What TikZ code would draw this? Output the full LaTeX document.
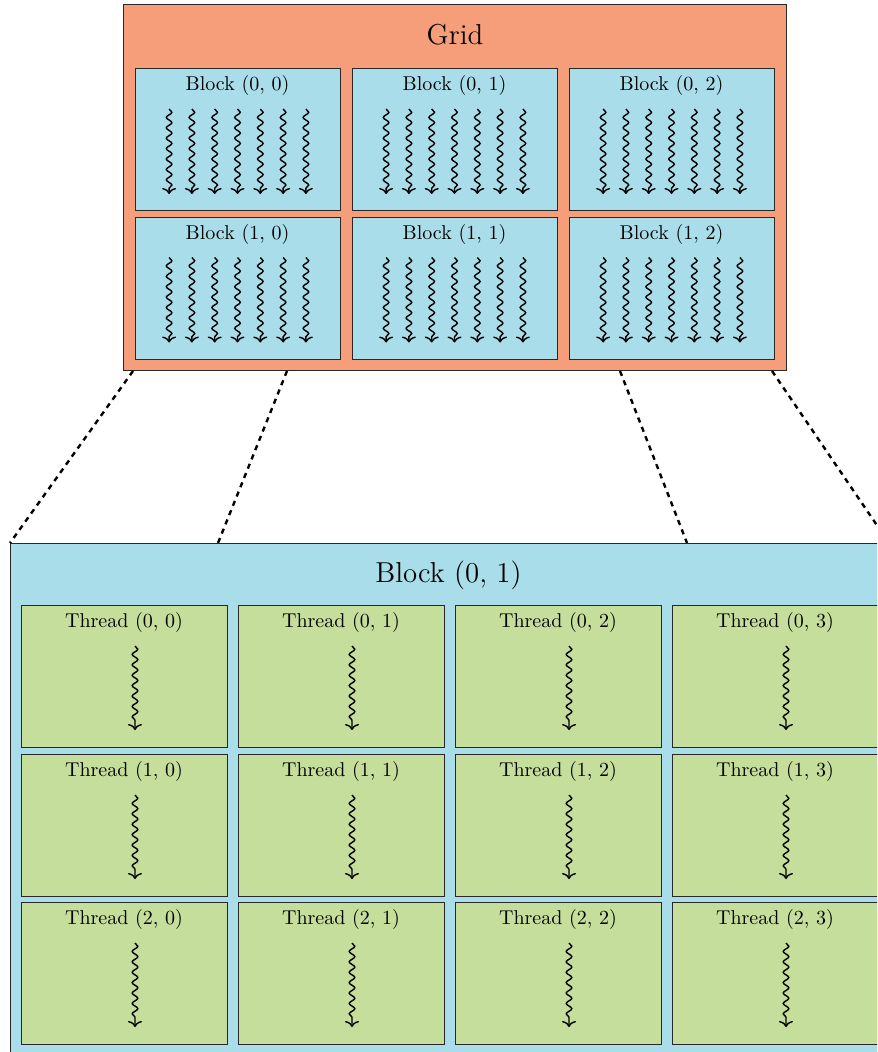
\documentclass[tikz,border=0pt]{standalone}
\usetikzlibrary{calc,decorations.pathmorphing,arrows.meta}

\definecolor{gridorange}{RGB}{246,158,122}
\definecolor{blockblue}{RGB}{170,221,234}
\definecolor{threadgreen}{RGB}{197,222,155}
\definecolor{edgegray}{RGB}{40,40,40}

\begin{document}
\begin{tikzpicture}[x=0.5pt,y=-0.5pt,
  frame/.style={draw=edgegray, line width=0.5pt, inner sep=0pt, outer sep=0pt},
  gridbox/.style={frame, fill=gridorange, minimum width=331.5pt, minimum height=183pt},
  blockbox/.style={frame, fill=blockblue, minimum width=102.5pt, minimum height=71pt},
  bigblock/.style={frame, fill=blockblue, minimum width=439.5pt, minimum height=257pt},
  threadbox/.style={frame, fill=threadgreen, minimum width=103pt, minimum height=71pt},
  label/.style={anchor=base, inner sep=0pt},
  wave/.style={line width=0.7pt, decorate,
    decoration={snake, amplitude=1.4pt, segment length=5.2pt, post length=2.5pt},
    -{To[length=3pt,width=7pt]}},
  zoomline/.style={line width=1.2pt, dash pattern=on 2.6pt off 2.4pt}]

\useasboundingbox (0,0) rectangle (877,1052);
\clip (0,0) rectangle (877,1052);

% ---- the grid of blocks ----
\node[gridbox] (grid) at (454.5,188) {};
\node[label, font=\Large] (gridtitle) at (455,45) {Grid};

\foreach \r/\ry in {0/140,1/288.5}{
  \foreach \c/\cx in {0/237.5,1/454.5,2/671.5}{
    \node[blockbox] (b\r\c) at (\cx,\ry) {};
    \node[label] (bt\r\c) at ($(b\r\c.north)+(0,22)$) {Block (\r, \c)};
    \foreach \k in {-3,...,3}{
      \draw[wave] ($(b\r\c.north)+(\k*22.8,40)$) -- ($(b\r\c.north)+(\k*22.8,125)$);
    }
  }
}

% ---- zoom connectors from the grid to the enlarged block ----
\coordinate (g1) at (133,371);
\coordinate (g2) at (287,371);
\coordinate (g3) at (620,371);
\coordinate (g4) at (772,371);

% ---- the enlarged block of threads ----
\node[bigblock] (big) at (449.5,800) {};
\node[label, font=\Large] (bigtitle) at (448.5,582) {Block (0, 1)};

\coordinate (l2) at (218,543);
\coordinate (l3) at (687,543);

\draw[zoomline] (g1) -- (big.north west);
\draw[zoomline] (g2) -- (l2);
\draw[zoomline] (g3) -- (l3);
\draw[zoomline] (g4) -- (big.north east);

\foreach \r/\ry in {0/676,1/825,2/973}{
  \foreach \c/\cx in {0/124,1/341,2/558,3/775}{
    \node[threadbox] (t\r\c) at (\cx,\ry) {};
    \node[label] (tt\r\c) at ($(t\r\c.north)+(0,22)$) {Thread (\r, \c)};
    \draw[wave] ($(t\r\c.north)+(11,41)$) -- ($(t\r\c.north)+(11,125)$);
  }
}
\end{tikzpicture}
\end{document}
